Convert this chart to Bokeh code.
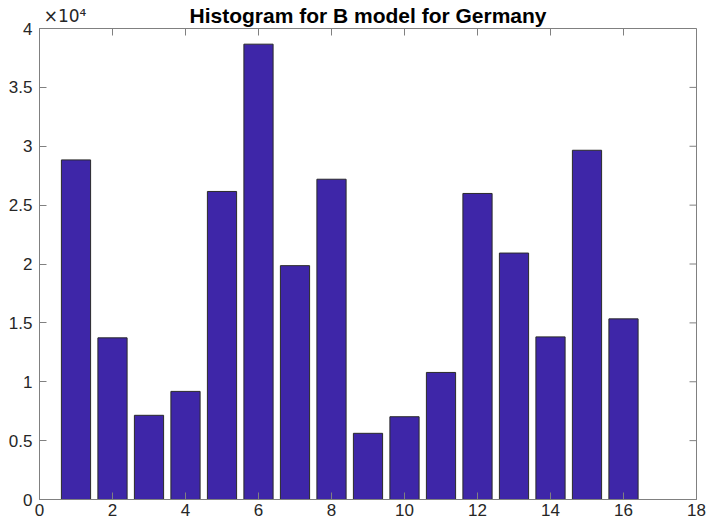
from bokeh.plotting import figure
from bokeh.models import (ColumnDataSource, Range1d, FixedTicker, LinearAxis,
                          CustomJSTickFormatter)
from bokeh.embed import file_html
from bokeh.resources import INLINE
import math

# data
bins = list(range(1, 17))
counts = [28840, 13730, 7150, 9180, 26160, 38670, 19860, 27200,
          5620, 7030, 10790, 25990, 20930, 13810, 29660, 15340]
x_ticks = [0, 2, 4, 6, 8, 10, 12, 14, 16, 18]
y_ticks = [0, 5000, 10000, 15000, 20000, 25000, 30000, 35000, 40000]
y_tick_labels = ["0", "0.5", "1", "1.5", "2", "2.5", "3", "3.5", "4"]
title_text = "Histogram for B model for Germany"
exponent_text = "×10⁴"
exponent_at = [0.70]

BAR = "#3E26A8"
AX = "#808080"
TXT = "#262626"
FONT = "Liberation Sans"

src = ColumnDataSource(dict(x=bins, top=counts))

p = figure(width=706, height=526, output_backend="svg", toolbar_location=None,
           title=None,
           x_range=Range1d(0, 18), y_range=Range1d(0, 40000),
           min_border_left=39, min_border_right=10, min_border_top=27, min_border_bottom=27)

p.vbar(x="x", top="top", width=0.8, bottom=0, source=src,
       fill_color=BAR, line_color="#2a2a2a", line_width=1)

p.xgrid.visible = False
p.ygrid.visible = False
p.outline_line_color = AX
p.background_fill_color = "white"
p.border_fill_color = "white"

for ax in (p.xaxis[0], p.yaxis[0]):
    ax.axis_line_color = AX
    ax.major_tick_line_color = AX
    ax.major_tick_in = 7
    ax.major_tick_out = 0
    ax.minor_tick_line_color = None
    ax.major_label_text_font = FONT
    ax.major_label_text_font_size = "17px"
    ax.major_label_text_color = TXT
p.xaxis.major_label_standoff = 4
p.yaxis.major_label_standoff = 7
p.xaxis.ticker = FixedTicker(ticks=x_ticks)
p.yaxis.ticker = FixedTicker(ticks=y_ticks)
p.yaxis.major_label_overrides = {t: l for t, l in zip(y_ticks, y_tick_labels)}

# inward ticks on the top and right edges of the box
p.ray(x=x_ticks, y=[y_ticks[-1]] * len(x_ticks), length=7, length_units="screen",
      angle=-math.pi / 2, line_color=AX, line_width=1)
p.ray(x=[x_ticks[-1]] * len(y_ticks), y=y_ticks, length=7, length_units="screen",
      angle=math.pi, line_color=AX, line_width=1)

# top axis: carries the "x10^4" exponent as its single tick label and the title
top = LinearAxis(ticker=FixedTicker(ticks=exponent_at, minor_ticks=[]),
                 formatter=CustomJSTickFormatter(code=f"return '{exponent_text}'"))
top.axis_line_color = None
top.major_tick_line_color = None
top.minor_tick_line_color = None
top.major_tick_in = 0
top.major_tick_out = 0
top.major_label_text_font = "DejaVu Sans"
top.major_label_text_font_size = "17px"
top.major_label_text_color = TXT
top.major_label_standoff = 3
top.axis_label = title_text
top.axis_label_text_font = FONT
top.axis_label_text_font_size = "21px"
top.axis_label_text_font_style = "bold"
top.axis_label_text_color = "#000000"
top.axis_label_text_line_height = 1.0
top.axis_label_standoff = -24
p.add_layout(top, "above")

open("out.html", "w").write(file_html(p, INLINE))
